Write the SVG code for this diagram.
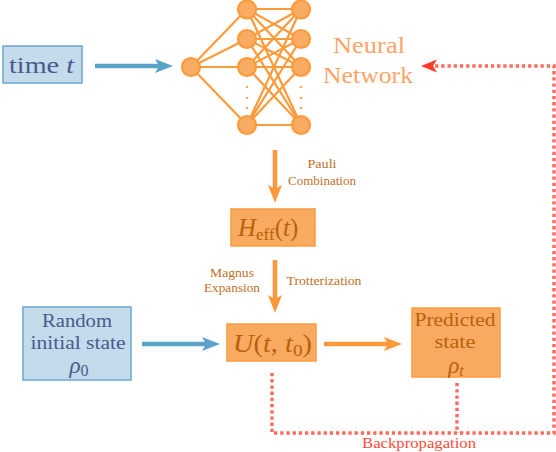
<svg xmlns="http://www.w3.org/2000/svg" width="556" height="452" viewBox="0 0 556 452">
<defs>
<style>
.it{font-style:italic;}
.blueBox{fill:#c3dbeb;stroke:#6aa8cf;stroke-width:1.5;}
.orBox{fill:#f8aa60;stroke:#ff9a3e;stroke-width:1.5;}
.blueTxt{fill:#4a5a8e;}
.orTxt{fill:#b8620c;}
.lbl{fill:#c0702a;font-size:12px;}
.nn{fill:#f7ab63;stroke:#ff9a3a;stroke-width:2.2;}
.edge{stroke:#ff9a3a;stroke-width:2.2;}
.dots{fill:#f7ab63;}
.blueArr{stroke:#5aa3c9;stroke-width:4.5;fill:none;}
.orArr{stroke:#ff983a;stroke-width:4.5;fill:none;}
.back{stroke:#ff6a5c;stroke-width:3.4;stroke-dasharray:3.3 2.9;fill:none;}
</style>
<marker id="mBlue" markerUnits="userSpaceOnUse" markerWidth="20" markerHeight="16" refX="9" refY="8" orient="auto">
<path d="M0,1 L18,8 L0,15 L4,8 z" fill="#5aa3c9"/>
</marker>
<marker id="mOr" markerUnits="userSpaceOnUse" markerWidth="20" markerHeight="16" refX="9" refY="8" orient="auto">
<path d="M0,1 L18,8 L0,15 L4,8 z" fill="#ff983a"/>
</marker>
<marker id="mRed" markerUnits="userSpaceOnUse" markerWidth="20" markerHeight="16" refX="7" refY="8" orient="auto">
<path d="M0,1.5 L16,8 L0,14.5 L4,8 z" fill="#ff3a28"/>
</marker>
</defs>

<g id="connectors">
<line class="blueArr" x1="95" y1="66" x2="164" y2="66" marker-end="url(#mBlue)"/>
<line class="orArr" x1="275" y1="150" x2="275" y2="194" marker-end="url(#mOr)"/>
<line class="orArr" x1="275" y1="260" x2="275" y2="304" marker-end="url(#mOr)"/>
<line class="blueArr" x1="142" y1="344" x2="211" y2="344" marker-end="url(#mBlue)"/>
<line class="orArr" x1="324" y1="344" x2="393" y2="344" marker-end="url(#mOr)"/>
<path class="back" d="M272,373 V433 H554 V66 H430" marker-end="url(#mRed)"/>
<path class="back" d="M457,383 V433"/>
<text class="lbl" font-family="Liberation Serif" x="322" y="168" text-anchor="middle" textLength="29" lengthAdjust="spacingAndGlyphs">Pauli</text>
<text class="lbl" font-family="Liberation Serif" x="322" y="185" text-anchor="middle" textLength="68" lengthAdjust="spacingAndGlyphs">Combination</text>
<text class="lbl" font-family="Liberation Serif" x="232" y="277" text-anchor="middle" textLength="44" lengthAdjust="spacingAndGlyphs">Magnus</text>
<text class="lbl" font-family="Liberation Serif" x="232" y="292" text-anchor="middle" textLength="56" lengthAdjust="spacingAndGlyphs">Expansion</text>
<text class="lbl" font-family="Liberation Serif" x="324" y="285" text-anchor="middle" textLength="75" lengthAdjust="spacingAndGlyphs">Trotterization</text>
<text font-family="Liberation Serif" x="419" y="448" text-anchor="middle" font-size="14" fill="#ff4a38" textLength="114" lengthAdjust="spacingAndGlyphs">Backpropagation</text>
</g>

<g id="time">
<rect class="blueBox" x="3" y="46" width="79" height="37"/>
<text class="blueTxt" font-family="Liberation Serif" x="9" y="73" font-size="24" textLength="65" lengthAdjust="spacingAndGlyphs">time <tspan class="it">t</tspan></text>
</g>

<g id="neural-network">
<g class="edge">
<line x1="191" y1="67" x2="247" y2="9"/>
<line x1="191" y1="67" x2="247" y2="39"/>
<line x1="191" y1="67" x2="247" y2="67"/>
<line x1="191" y1="67" x2="247" y2="125"/>
<line x1="247" y1="9" x2="301" y2="9"/><line x1="247" y1="9" x2="301" y2="39"/><line x1="247" y1="9" x2="301" y2="67"/><line x1="247" y1="9" x2="301" y2="125"/>
<line x1="247" y1="39" x2="301" y2="9"/><line x1="247" y1="39" x2="301" y2="39"/><line x1="247" y1="39" x2="301" y2="67"/><line x1="247" y1="39" x2="301" y2="125"/>
<line x1="247" y1="67" x2="301" y2="9"/><line x1="247" y1="67" x2="301" y2="39"/><line x1="247" y1="67" x2="301" y2="67"/><line x1="247" y1="67" x2="301" y2="125"/>
<line x1="247" y1="125" x2="301" y2="9"/><line x1="247" y1="125" x2="301" y2="39"/><line x1="247" y1="125" x2="301" y2="67"/><line x1="247" y1="125" x2="301" y2="125"/>
</g>
<circle class="nn" cx="191" cy="67" r="9"/>
<circle class="nn" cx="247" cy="9.5" r="9"/>
<circle class="nn" cx="247" cy="39" r="9"/>
<circle class="nn" cx="247" cy="67" r="9"/>
<circle class="nn" cx="247" cy="125" r="9"/>
<circle class="nn" cx="301" cy="9.5" r="9"/>
<circle class="nn" cx="301" cy="39" r="9"/>
<circle class="nn" cx="301" cy="67" r="9"/>
<circle class="nn" cx="301" cy="125" r="9"/>
<g class="dots">
<circle cx="247" cy="87" r="1.3"/><circle cx="247" cy="98" r="1.3"/><circle cx="247" cy="108" r="1.3"/>
<circle cx="301" cy="87" r="1.3"/><circle cx="301" cy="98" r="1.3"/><circle cx="301" cy="108" r="1.3"/>
</g>
<text font-family="Liberation Serif" x="369" y="53" text-anchor="middle" font-size="23" fill="#ffa466" textLength="72" lengthAdjust="spacingAndGlyphs">Neural</text>
<text font-family="Liberation Serif" x="368" y="83" text-anchor="middle" font-size="23" fill="#ffa466" textLength="90" lengthAdjust="spacingAndGlyphs">Network</text>
</g>

<g id="heff">
<rect class="orBox" x="231" y="209" width="84" height="37"/>
<text class="orTxt" font-family="Liberation Serif" x="238" y="236" font-size="25"><tspan class="it">H</tspan><tspan font-size="17" dy="4">eff</tspan><tspan dy="-4">(</tspan><tspan class="it">t</tspan>)</text>
</g>

<g id="random-state">
<rect class="blueBox" x="23" y="307" width="108" height="73"/>
<text class="blueTxt" font-family="Liberation Serif" x="77" y="327" text-anchor="middle" font-size="19" textLength="70" lengthAdjust="spacingAndGlyphs">Random</text>
<text class="blueTxt" font-family="Liberation Serif" x="78" y="349" text-anchor="middle" font-size="19" textLength="95" lengthAdjust="spacingAndGlyphs">initial state</text>
<text class="blueTxt" font-family="Liberation Serif" x="79" y="373" text-anchor="middle" font-size="23"><tspan class="it">ρ</tspan><tspan font-size="16" dy="3">0</tspan></text>
</g>

<g id="unitary">
<rect class="orBox" x="227" y="324" width="89" height="37"/>
<text class="orTxt" font-family="Liberation Serif" x="233" y="352" font-size="25" textLength="79" lengthAdjust="spacingAndGlyphs"><tspan class="it">U</tspan>(<tspan class="it">t</tspan>, <tspan class="it">t</tspan><tspan font-size="17" dy="4">0</tspan><tspan dy="-4">)</tspan></text>
</g>

<g id="predicted-state">
<rect class="orBox" x="412" y="308" width="88" height="69"/>
<text class="orTxt" font-family="Liberation Serif" x="455" y="326" text-anchor="middle" font-size="19" textLength="81" lengthAdjust="spacingAndGlyphs">Predicted</text>
<text class="orTxt" font-family="Liberation Serif" x="455" y="348" text-anchor="middle" font-size="19" textLength="41" lengthAdjust="spacingAndGlyphs">state</text>
<text class="orTxt" font-family="Liberation Serif" x="456" y="373" text-anchor="middle" font-size="23"><tspan class="it">ρ</tspan><tspan class="it" font-size="16" dy="3">t</tspan></text>
</g>
</svg>
